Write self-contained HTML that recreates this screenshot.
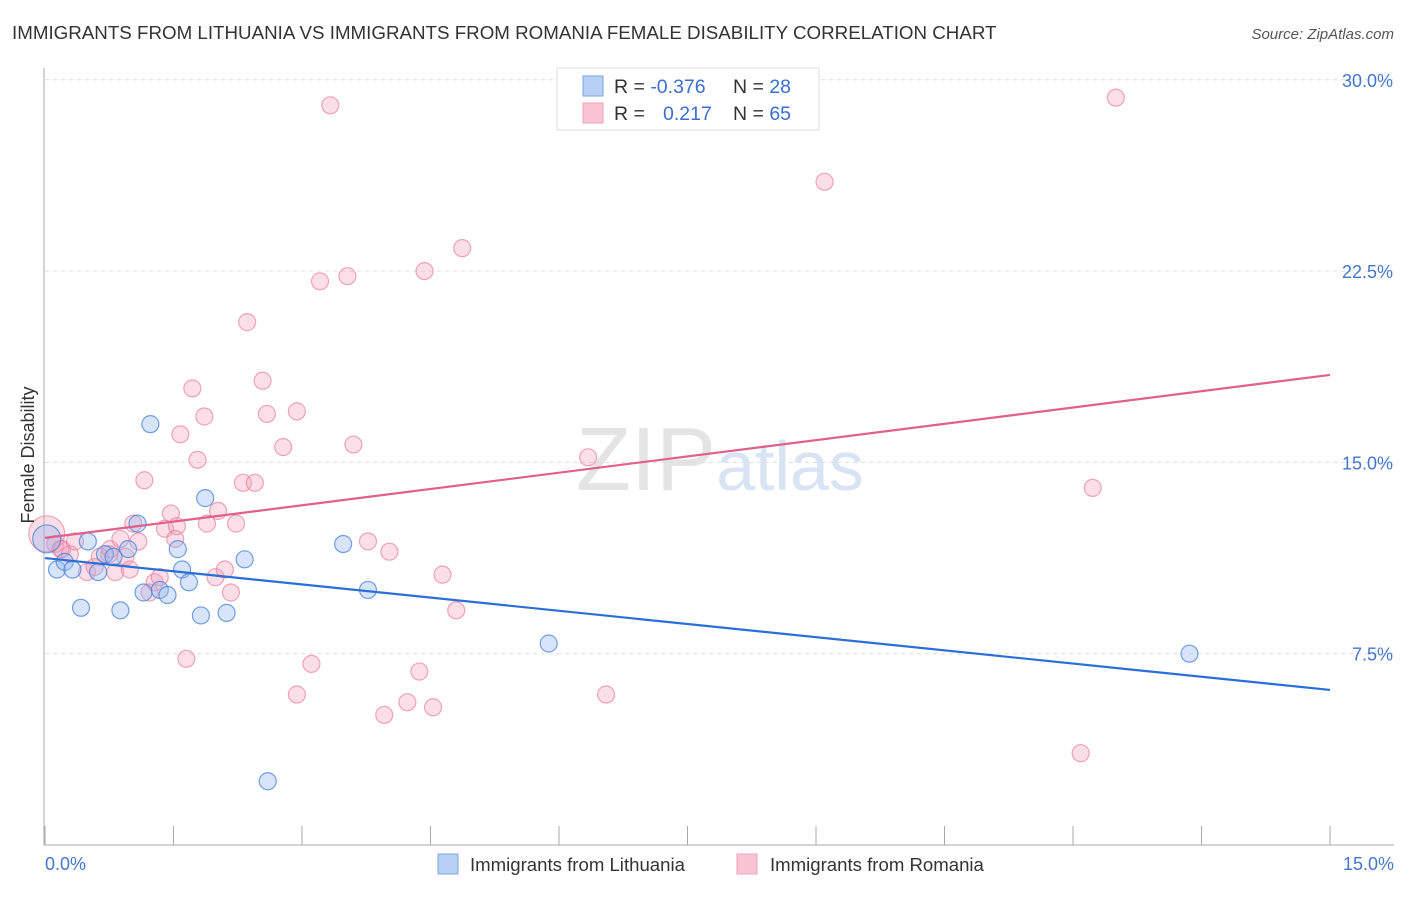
<!DOCTYPE html>
<html><head><meta charset="utf-8"><style>
body{margin:0;background:#fff;font-family:"Liberation Sans",sans-serif;}
svg text{font-family:"Liberation Sans",sans-serif;}
</style></head><body>
<svg id="chart" width="1406" height="892" xmlns="http://www.w3.org/2000/svg">
<text x="12" y="39" font-size="18.75" fill="#333">IMMIGRANTS FROM LITHUANIA VS IMMIGRANTS FROM ROMANIA FEMALE DISABILITY CORRELATION CHART</text>
<text x="1394" y="39" font-size="15" fill="#555" text-anchor="end" font-style="italic">Source: ZipAtlas.com</text>
<text x="720" y="490" font-size="90" fill="#e4e4e4" text-anchor="middle" font-family="Liberation Serif">ZIP<tspan fill="#d8e4f4" font-family="Liberation Sans" font-size="70">atlas</tspan></text>
<g id="grid"></g>
<g id="axes"></g>
<g id="pts"></g>
<g id="lines"></g>
<text x="34" y="455" font-size="18" fill="#333" text-anchor="middle" transform="rotate(-90 34 455)">Female Disability</text>
<text x="45" y="870" font-size="18" fill="#4477cc">0.0%</text>
<text x="1394" y="870" font-size="18" fill="#4477cc" text-anchor="end">15.0%</text>
<g>
<rect x="557" y="68" width="262" height="62" fill="#fff" stroke="#ddd"/>
<rect x="583" y="76" width="20" height="20" fill="#b8d0f4" stroke="#7aa3e0"/>
<rect x="583" y="103" width="20" height="20" fill="#f9c4d4" stroke="#eea0b8"/>
<text x="614" y="93" font-size="19.5" fill="#333">R = <tspan fill="#3a6fd0">-0.376</tspan><tspan x="733">N = </tspan><tspan fill="#3a6fd0">28</tspan></text>
<text x="614" y="120" font-size="19.5" fill="#333">R = <tspan x="663" fill="#3a6fd0">0.217</tspan><tspan x="733">N = </tspan><tspan fill="#3a6fd0">65</tspan></text>
</g>
<g>
<rect x="438" y="854" width="20" height="20" fill="#b8d0f4" stroke="#7aa3e0"/>
<text x="470" y="871" font-size="18.6" fill="#333">Immigrants from Lithuania</text>
<rect x="737" y="854" width="20" height="20" fill="#f9c4d4" stroke="#eea0b8"/>
<text x="770" y="871" font-size="18.6" fill="#333">Immigrants from Romania</text>
</g>
</svg>
<script>
const yTicks=[7.5,15,22.5,30];
const yTickLabels=["7.5%","15.0%","22.5%","30.0%"];
const blueX=[0.02,0.14,0.23,0.32,0.42,0.5,0.62,0.7,0.8,0.88,0.97,1.08,1.15,1.23,1.34,1.43,1.55,1.6,1.68,1.82,1.87,2.12,2.33,2.6,3.48,3.77,5.88,13.36];
const blueY=[12.0,10.8,11.1,10.8,9.3,11.9,10.7,11.4,11.3,9.2,11.6,12.6,9.9,16.5,10.0,9.8,11.6,10.8,10.3,9.0,13.6,9.1,11.2,2.5,11.8,10.0,7.9,7.5];
const pinkX=[0.02,0.12,0.18,0.2,0.29,0.35,0.49,0.58,0.64,0.75,0.76,0.82,0.88,0.94,0.99,1.03,1.09,1.16,1.22,1.28,1.34,1.4,1.47,1.54,1.58,1.65,1.72,1.78,1.86,1.89,1.99,2.02,2.1,2.17,2.23,2.31,2.36,2.45,2.54,2.59,2.78,2.94,2.94,3.11,3.21,3.33,3.53,3.6,3.77,3.96,4.02,4.23,4.37,4.43,4.53,4.64,4.8,4.87,6.34,6.55,9.1,12.23,12.5,12.09,1.52];
const pinkY=[12.2,11.8,11.6,11.6,11.4,11.9,10.7,10.9,11.3,11.4,11.6,10.7,12.0,11.3,10.8,12.6,11.9,14.3,9.9,10.3,10.5,12.4,13.0,12.5,16.1,7.3,17.9,15.1,16.8,12.6,10.5,13.1,10.8,9.9,12.6,14.2,20.5,14.2,18.2,16.9,15.6,17.0,5.9,7.1,22.1,29.0,22.3,15.7,11.9,5.1,11.5,5.6,6.8,22.5,5.4,10.6,9.2,23.4,15.2,5.9,26.0,14.0,29.3,3.6,12.0];
const blueLine=[11.25,6.08];
const pinkLine=[12.04,18.43];
const NS="http://www.w3.org/2000/svg";
const xs=v=>45+v/15*1285;
const ys=v=>845-v/7.5*191.3;
function mk(t,a,p){const e=document.createElementNS(NS,t);for(const k in a)e.setAttribute(k,a[k]);p.appendChild(e);return e;}
const grid=document.getElementById('grid'),axes=document.getElementById('axes');
yTicks.forEach((t,i)=>{
  const l=mk('line',{x1:45,x2:1394,y1:ys(t),y2:ys(t),stroke:'#ddd','stroke-dasharray':'4,4'},grid);
  
  
  const tx=mk('text',{x:1393,y:ys(t)+7,'font-size':18,fill:'#4477cc','text-anchor':'end'},axes);
  tx.textContent=yTickLabels[i];
  
  
});
mk('line',{x1:44,x2:44,y1:68,y2:845,stroke:'#aaa'},axes);
mk('line',{x1:44,x2:1394,y1:845,y2:845,stroke:'#aaa'},axes);
for(let i=0;i<=10;i++){const t=mk('line',{x1:xs(i*1.5),x2:xs(i*1.5),y1:826,y2:845,stroke:'#aaa'},axes);
  
  }
const pts=document.getElementById('pts');
pinkX.forEach((x,i)=>{const c=mk('circle',{cx:xs(x),cy:ys(pinkY[i]),r:i==0?18:8.5,fill:'rgba(244,160,185,0.35)',stroke:'rgba(232,130,160,0.7)','stroke-width':1.2},pts);
  
  });
blueX.forEach((x,i)=>{const c=mk('circle',{cx:xs(x),cy:ys(blueY[i]),r:i==0?14:8.5,fill:'rgba(150,185,240,0.38)',stroke:'rgba(70,130,220,0.75)','stroke-width':1.2},pts);
  
  });
const lines=document.getElementById('lines');
const bl=mk('line',{x1:xs(0),y1:ys(blueLine[0]),x2:xs(15),y2:ys(blueLine[1]),stroke:'#2a6fd6','stroke-width':2.2},lines);


const pl=mk('line',{x1:xs(0),y1:ys(pinkLine[0]),x2:xs(15),y2:ys(pinkLine[1]),stroke:'#e0608a','stroke-width':2.2},lines);


</script>
</body></html>
